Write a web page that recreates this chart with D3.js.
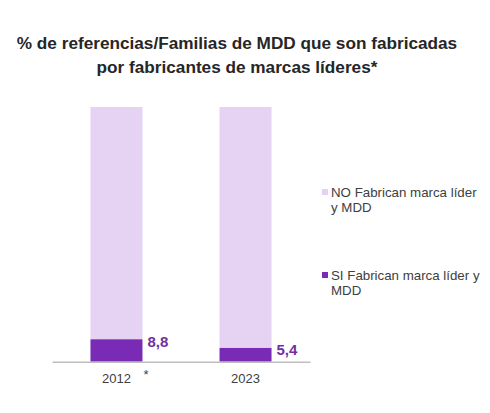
<!DOCTYPE html>
<html><head><meta charset="utf-8">
<script src="https://cdn.jsdelivr.net/npm/d3@7"></script>
<style>body{margin:0;background:#fff;}svg{display:block;font-family:"Liberation Sans",Arial,sans-serif;}</style>
</head><body>
<script>
const categories = ["2012", "2023"];
const siValues = [8.8, 5.4];
const noValues = [91.2, 94.6];
const valueLabels = ["8,8", "5,4"];
const seriesNames = ["NO Fabrican marca líder y MDD", "SI Fabrican marca líder y MDD"];
const titleLines = ["% de referencias/Familias de MDD que son fabricadas", "por fabricantes de marcas líderes*"];

const W = 490, H = 413;
const svg = d3.select("body").append("svg").attr("width", W).attr("height", H);
const cLight = "#e6d3f3", cDark = "#7a2bb6", cLabel = "#7030a0";

svg.selectAll("text.title").data(titleLines).enter().append("text")
  .attr("x", 237).attr("y", (d, i) => 49 + i * 24)
  .attr("text-anchor", "middle").attr("font-size", 17.2).attr("font-weight", "bold")
  .attr("fill", "#262626").text(d => d);

const x = d3.scaleBand().domain(categories).range([52, 310]).paddingInner(0.597).paddingOuter(0.298);
const y = d3.scaleLinear().domain([0, 100]).range([361.7, 107]);

const g = svg.append("g");
categories.forEach((c, i) => {
  g.append("rect").attr("x", x(c)).attr("width", x.bandwidth())
    .attr("y", y(siValues[i] + noValues[i])).attr("height", y(siValues[i]) - y(siValues[i] + noValues[i]))
    .attr("fill", cLight);
  g.append("rect").attr("x", x(c)).attr("width", x.bandwidth())
    .attr("y", y(siValues[i])).attr("height", y(0) - y(siValues[i]))
    .attr("fill", cDark);
  g.append("text").attr("x", x(c) + x.bandwidth() + 5).attr("y", y(siValues[i]) + 7.5)
    .attr("font-size", 15).attr("font-weight", "bold").attr("fill", cLabel).text(valueLabels[i]);
});

const axis = d3.axisBottom(x).tickSize(0).tickPadding(12);
const ag = svg.append("g").attr("transform", `translate(0,${y(0)})`).call(axis);
ag.select(".domain").attr("stroke", "#bfbfbf").attr("stroke-width", 1.5);
ag.selectAll("text").attr("font-size", 13).attr("fill", "#404040").attr("font-family", "Liberation Sans, Arial, sans-serif");
svg.append("text").attr("x", x("2012") + x.bandwidth() + 1).attr("y", 379)
  .attr("font-size", 13).attr("fill", "#404040").text("*");

const legend = [
  {color: cLight, lines: ["NO Fabrican marca líder", "y MDD"], y: 197},
  {color: cDark, lines: ["SI Fabrican marca líder y", "MDD"], y: 280}
];
legend.forEach(l => {
  svg.append("rect").attr("x", 322).attr("y", l.y - 8).attr("width", 6).attr("height", 6).attr("fill", l.color);
  l.lines.forEach((t, j) => {
    svg.append("text").attr("x", 331).attr("y", l.y + j * 14.5).attr("font-size", 13.3)
      .attr("fill", "#404040").text(t);
  });
});
</script>
</body></html>
